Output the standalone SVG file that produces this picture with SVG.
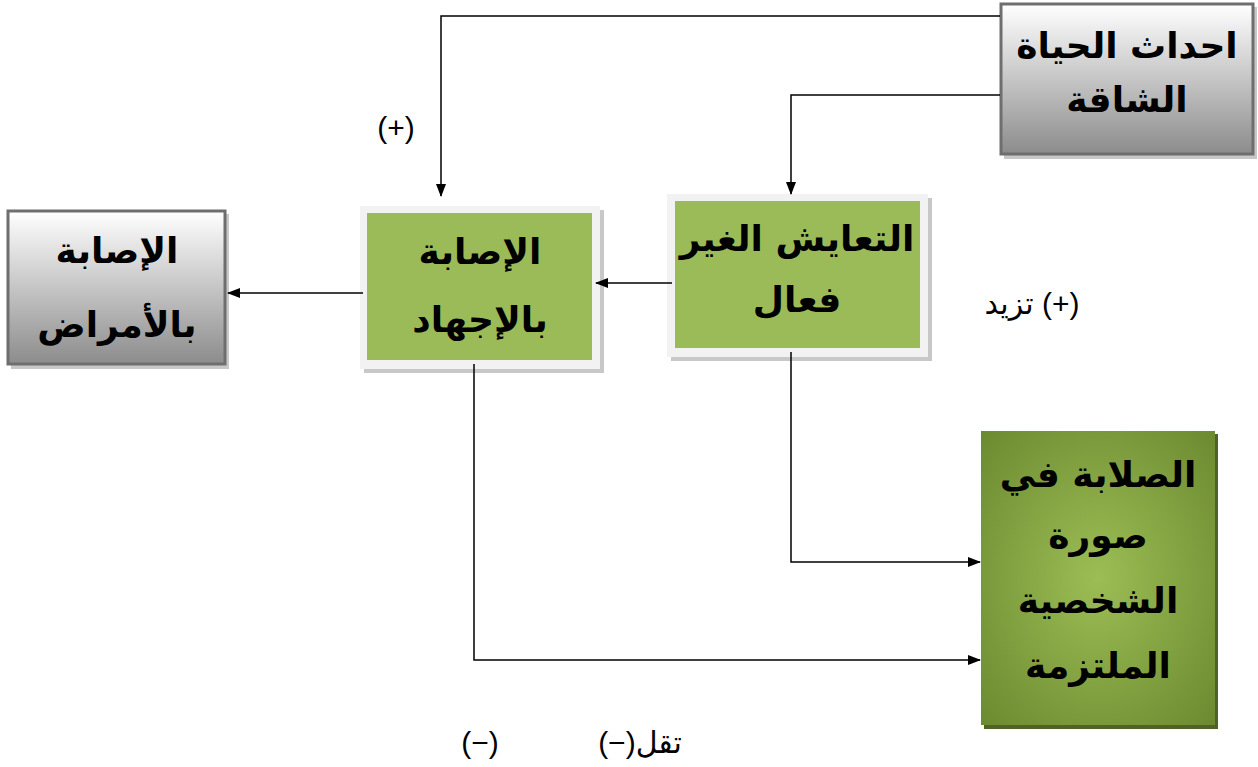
<svg xmlns="http://www.w3.org/2000/svg" width="1258" height="767" viewBox="0 0 1258 767">
<style>
.t{font-family:"DejaVu Sans","Liberation Sans",sans-serif;font-weight:bold;font-size:36px;fill:#000;text-anchor:middle}
.l{font-family:"Liberation Sans","DejaVu Sans",sans-serif;font-size:30px;fill:#000;text-anchor:middle}
.c{fill:none;stroke:#000;stroke-width:1.5}
</style>
<defs>
<linearGradient id="gray" x1="0" y1="0" x2="0" y2="1">
<stop offset="0" stop-color="#ffffff"/>
<stop offset="1" stop-color="#8c8c8c"/>
</linearGradient>
<radialGradient id="rg" cx="0.5" cy="0.5" r="0.7">
<stop offset="0" stop-color="#9cbd55"/>
<stop offset="1" stop-color="#6c8a30"/>
</radialGradient>
<marker id="a" markerWidth="13" markerHeight="10" refX="12" refY="5" orient="auto" markerUnits="userSpaceOnUse">
<path d="M0,0 L13,5 L0,10 Z" fill="#000"/>
</marker>
</defs>
<g id="n-events">
<rect x="1004" y="7" width="253" height="152" fill="#c8c8c8"/>
<rect x="1001" y="4" width="252" height="150" fill="url(#gray)" stroke="#6e6e6e" stroke-width="3"/>
<text class="t" x="1127" y="58">احداث الحياة</text>
<text class="t" x="1127" y="112">الشاقة</text>
</g>
<g id="n-disease">
<rect x="11" y="214" width="218" height="155" fill="#c8c8c8"/>
<rect x="8" y="211" width="217" height="153" fill="url(#gray)" stroke="#6e6e6e" stroke-width="3"/>
<text class="t" x="117" y="263">الإصابة</text>
<text class="t" x="117" y="337">بالأمراض</text>
</g>
<g id="n-stress">
<rect x="364" y="210" width="240" height="163" fill="#c8c8c8"/>
<rect x="360" y="206" width="240" height="163" fill="#f2f2f2"/>
<rect x="367" y="213" width="225" height="147" fill="#9bbb59"/>
<text class="t" x="480" y="264">الإصابة</text>
<text class="t" x="480" y="332">بالإجهاد</text>
</g>
<g id="n-coping">
<rect x="671" y="198" width="261" height="163" fill="#c8c8c8"/>
<rect x="667" y="194" width="261" height="163" fill="#f2f2f2"/>
<rect x="675" y="201" width="245" height="147" fill="#9bbb59"/>
<text class="t" x="797" y="251">التعايش الغير</text>
<text class="t" x="797" y="312">فعال</text>
</g>
<g id="n-hardiness">
<rect x="984" y="434" width="234" height="295" fill="#4f6228"/>
<rect x="981" y="431" width="234" height="294" fill="url(#rg)"/>
<text class="t" x="1098" y="487">الصلابة في</text>
<text class="t" x="1098" y="548">صورة</text>
<text class="t" x="1098" y="613">الشخصية</text>
<text class="t" x="1098" y="678">الملتزمة</text>
</g>
<g id="connectors">
<path class="c" d="M1000,16 H441 V196" marker-end="url(#a)"/>
<path class="c" d="M1000,95 H791 V194" marker-end="url(#a)"/>
<path class="c" d="M672,283 H596" marker-end="url(#a)"/>
<path class="c" d="M363,293 H228" marker-end="url(#a)"/>
<path class="c" d="M791,352 V562 H980" marker-end="url(#a)"/>
<path class="c" d="M474,364 V660 H980" marker-end="url(#a)"/>
</g>
<g id="labels">
<text class="l" x="396" y="138">(+)</text>
<text class="l" x="1032" y="314" direction="rtl">(+) تزيد</text>
<text class="l" x="480" y="753">(−)</text>
<text class="l" x="640" y="753" direction="rtl">تقل(−)</text>
</g>
</svg>
